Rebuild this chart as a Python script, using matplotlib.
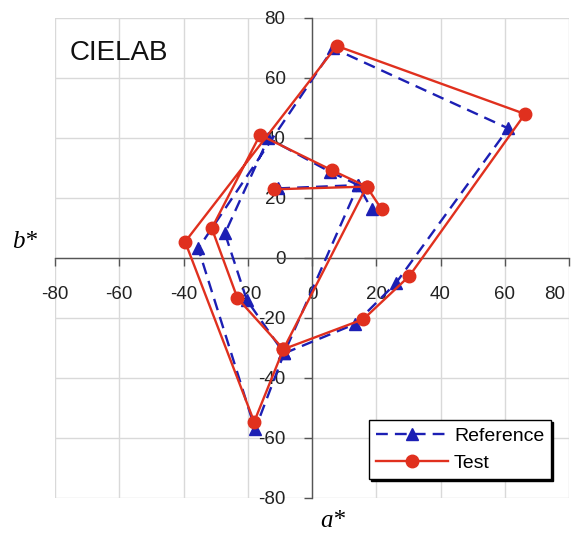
import matplotlib
matplotlib.use("Agg")
import matplotlib.pyplot as plt
from matplotlib.transforms import ScaledTranslation

# a*, b* coordinates along the traced path for each data set
ref_a = [-10.5, 14.4, -8.7, 13.4, 26.1, 61.1, 6.6, -35.4, -17.7, -8.7, -20.3, -27.1, -13.6, 5.5, 14.4, 18.6]
ref_b = [23.2, 24.3, -31.8, -22.0, -8.4, 43.2, 69.9, 3.2, -57.1, -31.8, -14.0, 8.2, 39.9, 28.8, 24.3, 16.2]
test_a = [-11.8, 17.0, -8.9, 16.0, 30.3, 66.3, 7.7, -39.5, -18.0, -8.9, -23.2, -31.2, -16.2, 6.1, 17.0, 21.7]
test_b = [22.9, 23.8, -30.4, -20.4, -6.0, 48.0, 70.7, 5.4, -54.6, -30.4, -13.4, 9.9, 41.0, 29.3, 23.8, 16.2]

ticks = [-80, -60, -40, -20, 0, 20, 40, 60, 80]

plt.rcParams['font.family'] = ['Liberation Sans', 'DejaVu Sans']
plt.rcParams['axes.unicode_minus'] = False

fig = plt.figure(figsize=(5.77, 5.33), dpi=100)
ax = fig.add_axes([55 / 577, 1 - 498 / 533, 514 / 577, 480 / 533])

ax.set_xlim(-80, 80)
ax.set_ylim(-80, 80)
ax.set_xticks(ticks)
ax.set_yticks(ticks)
ax.grid(True, color='#d9d9d9', linewidth=1.0, zorder=0)
ax.set_axisbelow(True)

for s in ('top', 'right'):
    ax.spines[s].set_visible(False)
for s in ('left', 'bottom'):
    ax.spines[s].set_position('zero')
    ax.spines[s].set_color('#555555')
    ax.spines[s].set_linewidth(1.0)

ax.tick_params(axis='both', direction='out', length=6, width=1.0, color='#555555',
               labelsize=13.5, labelcolor='#222222')
ax.tick_params(axis='x', pad=14)
ax.tick_params(axis='y', pad=13)

# keep the outermost x label inside the figure
fig.canvas.draw()
last = ax.get_xticklabels()[-1]
last.set_transform(last.get_transform() + ScaledTranslation(-14 / 100, 0, fig.dpi_scale_trans))

blue = '#1c1fb4'
red = '#e0301e'

ax.plot(ref_a, ref_b, linestyle=(0, (5, 3)), color=blue, linewidth=1.7,
        marker='^', markersize=8, markerfacecolor=blue, markeredgecolor=blue,
        label='Reference', zorder=3)
ax.plot(test_a, test_b, linestyle='-', color=red, linewidth=1.7,
        marker='o', markersize=9, markerfacecolor=red, markeredgecolor=red,
        label='Test', zorder=4)

ax.text(-75.5, 68.5, 'CIELAB', fontsize=20, va='center', ha='left', color='#111111')

fig.text(25 / 577, 1 - 242 / 533, 'b*', fontsize=18, style='italic',
         family=['Liberation Serif', 'DejaVu Serif'], ha='center', va='center')
fig.text(333 / 577, 1 - 521 / 533, 'a*', fontsize=18, style='italic',
         family=['Liberation Serif', 'DejaVu Serif'], ha='center', va='center')

leg = ax.legend(loc='lower right', bbox_to_anchor=(0.965, 0.04), fontsize=14,
                handlelength=3.7, fancybox=False, framealpha=1, edgecolor='black',
                borderpad=0.35, labelspacing=0.5, handletextpad=0.3, borderaxespad=0,
                shadow={'color': 'black', 'alpha': 1, 'ox': 1.5, 'oy': -1.5})
leg.get_frame().set_linewidth(1.0)
leg.set_zorder(6)

fig.savefig('out.png', dpi=100)
